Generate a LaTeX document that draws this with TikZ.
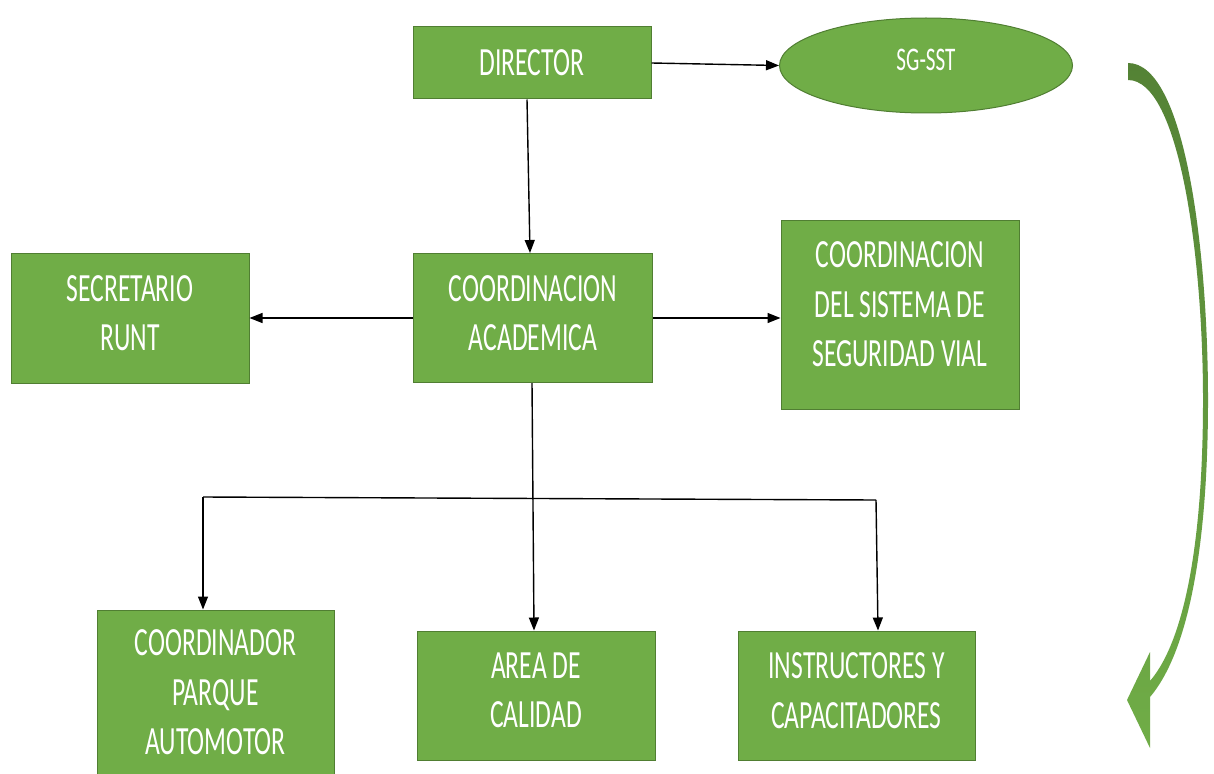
\documentclass[tikz,border=0pt]{standalone}
\usepackage{fontspec}
\setmainfont[FakeStretch=0.64]{Carlito}
\usetikzlibrary{arrows.meta,calc,shapes.geometric}
\definecolor{boxgreen}{HTML}{70AD47}
\definecolor{boxedge}{HTML}{507E32}
\definecolor{arrdark}{HTML}{548235}
\tikzset{
  orgbox/.style={draw=boxedge, line width=1pt, fill=boxgreen, text=white, align=center,
    font=\fontsize{40}{49.5}\selectfont, inner sep=0pt},
  link/.style={line width=1.4pt, -{Triangle[length=13pt,width=10pt]}},
  plain/.style={line width=1.4pt}
}
\newcommand{\boxtext}[2]{\parbox{232pt}{\centering #2\par\vspace*{#1}}}
\begin{document}
\begin{tikzpicture}[x=1pt,y=-1pt]
\useasboundingbox (0,0) rectangle (1214,773);
\clip (0,0) rectangle (1214,773);
\fill[white] (0,0) rectangle (1214,773);
% nodes
\node[orgbox, minimum width=238pt, minimum height=72pt] (dir) at (532,63) {DIRECTOR};
\node[draw=boxedge, line width=1pt, fill=boxgreen, text=white, ellipse, minimum width=293pt, minimum height=95pt, inner sep=0pt, font=\fontsize{33}{36}\selectfont] (sg) at (926,65.5) {\parbox{100pt}{\centering SG-SST\par\vspace*{12pt}}};
\node[orgbox, minimum width=238pt, minimum height=130pt] (sec) at (130,318) {\boxtext{10pt}{SECRETARIO\\RUNT}};
\node[orgbox, minimum width=239pt, minimum height=129pt] (acad) at (533,318) {\boxtext{10pt}{COORDINACION\\ACADEMICA}};
\node[orgbox, minimum width=238pt, minimum height=189pt] (vial) at (900,314.5) {\boxtext{20pt}{COORDINACION\\DEL SISTEMA DE\\SEGURIDAD VIAL}};
\node[orgbox, minimum width=237pt, minimum height=175pt] (parq) at (215.5,697.5) {\boxtext{10pt}{COORDINADOR\\PARQUE\\AUTOMOTOR}};
\node[orgbox, minimum width=238pt, minimum height=129pt] (area) at (536,695.5) {\boxtext{10pt}{AREA DE\\CALIDAD}};
\node[orgbox, minimum width=237pt, minimum height=129pt] (inst) at (856.5,695.5) {\boxtext{10pt}{INSTRUCTORES Y\\CAPACITADORES}};
% connectors
\draw[link] (dir.east) -- (sg.west);
\draw[link] ($(dir.south)+(-5,0)$) -- ($(acad.north)+(-3,0)$);
\draw[link] (acad.west) -- (sec.east);
\draw[link] (acad.east) -- (vial.west |- acad.east);
\draw[link] ($(acad.south)+(-1,0)$) -- (area.north -| 534,0);
\coordinate (jl) at (203,497);
\coordinate (jr) at (876,500);
\draw[plain] (jl) -- (jr);
\draw[link] (jl) -- (parq.north -| jl);
\draw[link] (jr) -- (inst.north -| 878,0);
% curved arrow
\shade[top color=arrdark, bottom color=boxgreen]
  (1128,63) .. controls (1185,63) and (1208,250) .. (1208,400)
  .. controls (1208,540) and (1190,650) .. (1150,697)
  -- (1150,748) -- (1127,700) -- (1150,652) -- (1150,681)
  .. controls (1185,640) and (1203,540) .. (1203,400)
  .. controls (1203,260) and (1180,80) .. (1128,80) -- cycle;
\end{tikzpicture}
\end{document}
